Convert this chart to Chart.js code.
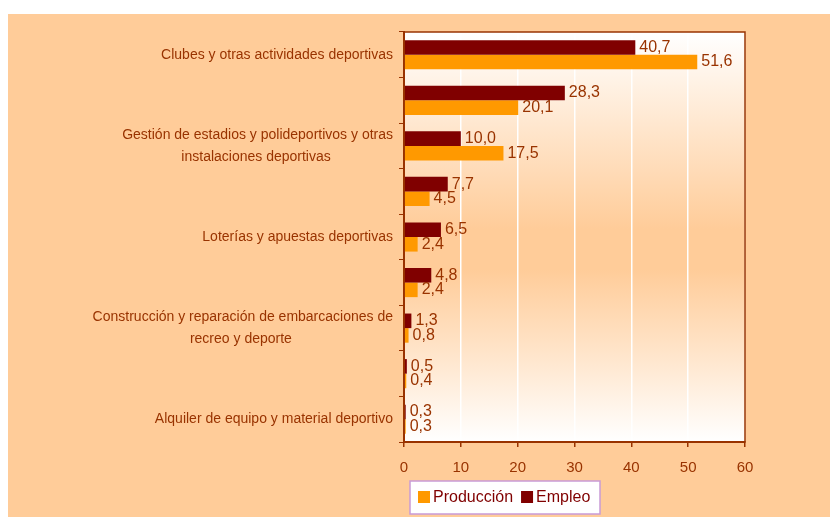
<!DOCTYPE html>
<html lang="es">
<head>
<meta charset="utf-8">
<title>Producción y empleo</title>
<script src="https://cdn.jsdelivr.net/npm/chart.js@4.4.1/dist/chart.umd.min.js"></script>
<style>
    html, body { margin: 0; padding: 0; background: #ffffff; }
    #wrap { width: 830px; height: 518px; }
</style>
</head>
<body>
<div id="wrap"><canvas id="grafico" width="830" height="518"></canvas></div>
<script>
// Datos del gráfico (las categorías sin rótulo visible quedan vacías)
const categorias = [
    'Clubes y otras actividades deportivas',
    '',
    ['Gestión de estadios y polideportivos y otras', 'instalaciones deportivas'],
    '',
    'Loterías y apuestas deportivas',
    '',
    ['Construcción y reparación de embarcaciones de', 'recreo y deporte'],
    '',
    'Alquiler de equipo y material deportivo'
];
const empleo = [40.7, 28.3, 10.0, 7.7, 6.5, 4.8, 1.3, 0.5, 0.3];
const produccion = [51.6, 20.1, 17.5, 4.5, 2.4, 2.4, 0.8, 0.4, 0.3];
const ticksX = [0, 10, 20, 30, 40, 50, 60];

const MARRON = '#993300';
const FUENTE = '"Liberation Sans", Arial, sans-serif';

// Centra las líneas de un rótulo de varias líneas rellenando con espacios
const medidor = document.createElement('canvas').getContext('2d');
medidor.font = '14px ' + FUENTE;
const centrarLineas = (lineas) => {
    if (!Array.isArray(lineas)) return lineas;
    const anchos = lineas.map(l => medidor.measureText(l).width);
    const maximo = Math.max(...anchos);
    const espacio = medidor.measureText(' ').width;
    return lineas.map((l, i) => l + ' '.repeat(Math.round((maximo - anchos[i]) / 2 / espacio)));
};

// Fondo del lienzo y degradado del área de trazado
const fondoPlugin = {
    id: 'fondo',
    beforeDraw(chart) {
        const { ctx, chartArea: a } = chart;
        ctx.save();
        ctx.fillStyle = '#ffffff';
        ctx.fillRect(0, 0, chart.width, chart.height);
        ctx.fillStyle = '#FFCC99';
        ctx.fillRect(8, 14, chart.width - 8, 503);
        const g = ctx.createLinearGradient(0, a.top, 0, a.bottom);
        g.addColorStop(0, '#FFFFFF');
        g.addColorStop(0.48, '#FFCC99');
        g.addColorStop(0.58, '#FFCC99');
        g.addColorStop(1, '#FFFFFF');
        ctx.fillStyle = g;
        ctx.fillRect(a.left, a.top, a.right - a.left, a.bottom - a.top);
        ctx.restore();
    }
};

// Marco, etiquetas de valor y leyenda
const extrasPlugin = {
    id: 'extras',
    afterDatasetsDraw(chart) {
        const { ctx, chartArea: a } = chart;
        ctx.save();
        ctx.strokeStyle = MARRON;
        ctx.lineWidth = 1.5;
        ctx.strokeRect(a.left, a.top, a.right - a.left, a.bottom - a.top);

        ctx.font = '16px ' + FUENTE;
        ctx.fillStyle = MARRON;
        ctx.textAlign = 'left';
        ctx.textBaseline = 'middle';
        chart.data.datasets.forEach((ds, i) => {
            chart.getDatasetMeta(i).data.forEach((bar, j) => {
                const texto = ds.data[j].toFixed(1).replace('.', ',');
                ctx.fillText(texto, bar.x + 4, bar.y);
            });
        });
        ctx.restore();
    },
    afterDraw(chart) {
        const { ctx } = chart;
        ctx.save();
        ctx.fillStyle = '#ffffff';
        ctx.fillRect(410, 481, 190, 33);
        ctx.strokeStyle = '#C99AD6';
        ctx.lineWidth = 1.5;
        ctx.strokeRect(410, 481, 190, 33);
        ctx.font = '16px ' + FUENTE;
        ctx.textBaseline = 'middle';
        ctx.textAlign = 'left';
        let x = 418;
        // La leyenda muestra primero Producción
        [...chart.data.datasets].reverse().forEach(ds => {
            ctx.fillStyle = ds.backgroundColor;
            ctx.fillRect(x, 491, 12, 12);
            ctx.fillStyle = '#800000';
            ctx.fillText(ds.label, x + 15, 498);
            x += 15 + ctx.measureText(ds.label).width + 8;
        });
        ctx.restore();
    }
};

const ctx = document.getElementById('grafico').getContext('2d');
new Chart(ctx, {
    type: 'bar',
    data: {
        labels: categorias.map(centrarLineas),
        datasets: [
            { label: 'Empleo', data: empleo, backgroundColor: '#800000' },
            { label: 'Producción', data: produccion, backgroundColor: '#FF9900' }
        ]
    },
    options: {
        indexAxis: 'y',
        responsive: false,
        animation: false,
        layout: { padding: { left: 8, right: 85, top: 32, bottom: 46 } },
        datasets: { bar: { categoryPercentage: 0.64, barPercentage: 1 } },
        plugins: {
            legend: { display: false },
            tooltip: { enabled: false }
        },
        scales: {
            x: {
                min: 0,
                max: 60,
                afterBuildTicks: (scale) => { scale.ticks = ticksX.map(v => ({ value: v })); },
                afterFit: (scale) => { scale.height = 30; },
                grid: { color: '#FFFFFF', lineWidth: 1.5, tickColor: MARRON, tickLength: 5 },
                border: { color: MARRON, width: 2 },
                ticks: { color: MARRON, font: { family: FUENTE, size: 15 }, padding: 12 }
            },
            y: {
                afterFit: (scale) => { scale.width = 396; },
                grid: { drawOnChartArea: false, offset: true, tickColor: MARRON, tickLength: 5 },
                border: { color: MARRON, width: 2 },
                ticks: {
                    autoSkip: false,
                    color: MARRON,
                    padding: 6,
                    font: { family: FUENTE, size: 14, lineHeight: 1.55 }
                }
            }
        }
    },
    plugins: [fondoPlugin, extrasPlugin]
});
</script>
</body>
</html>
